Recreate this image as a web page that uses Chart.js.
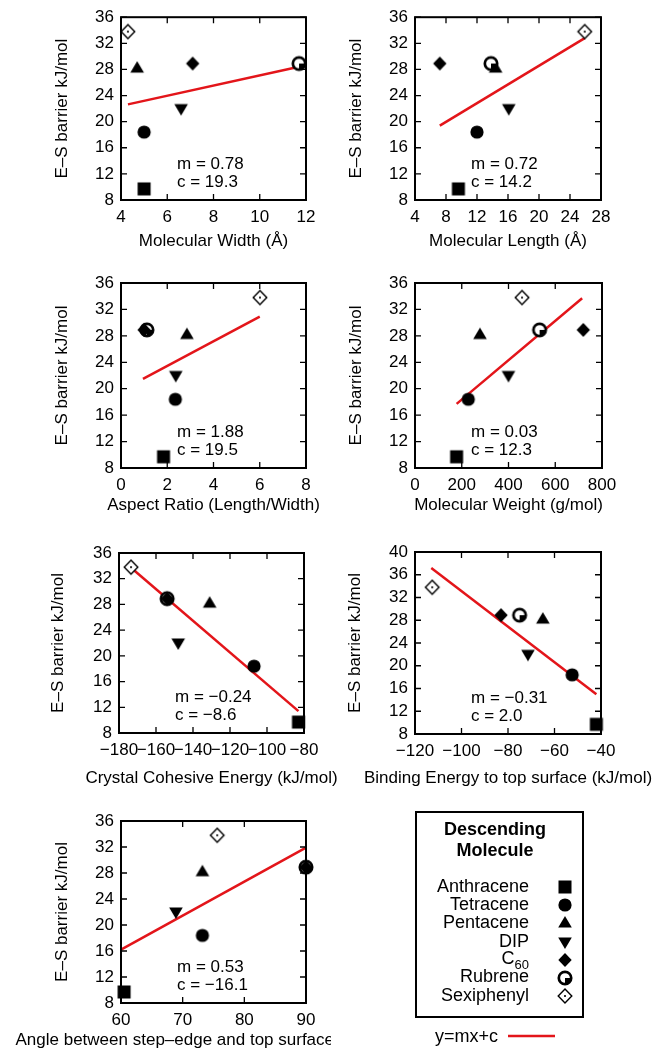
<!DOCTYPE html>
<html lang="en">
<head>
<meta charset="UTF-8" />
<title>E-S barrier vs molecular descriptors</title>
<script src="https://cdn.jsdelivr.net/npm/chart.js"></script>
<style>
  body { margin: 0; background: #fff; }
  .sheet { position: relative; width: 667px; height: 1055px; background: #fff; overflow: hidden; }
  .sheet canvas { position: absolute; }
</style>
</head>
<body>
<div class="sheet" id="sheet"></div>

<script>
  // molecules in plotting order
  const molecules = ["Anthracene", "Tetracene", "Pentacene", "DIP", "C60", "Rubrene", "Sexiphenyl"];
  const markerKinds = ["square", "circle", "triUp", "triDown", "diamond", "rubrene", "openDiamond"];
  // E-S barrier (kJ/mol), same for every panel
  const esBarrier = [9.7, 18.4, 28.2, 22.0, 28.9, 28.9, 33.8];

  // x values per panel
  const molWidth = [5.0, 5.0, 4.7, 6.6, 7.1, 11.7, 4.3];
  const molLength = [9.6, 12.0, 14.4, 16.1, 7.2, 13.8, 25.9];
  const aspectRatio = [1.84, 2.35, 2.85, 2.37, 1.0, 1.12, 6.01];
  const molWeight = [178, 228, 278, 400, 720, 533, 458];
  const cohesiveEnergy = [-83, -107, -131, -148, -154, -154, -173.5];
  const bindingEnergy = [-42, -52.4, -65, -71.4, -83, -75, -112.6];
  const stepAngle = [60.5, 73.2, 73.2, 68.9, 90, 90, 75.6];

  // fitted lines y = mx + c (end points)
  const fitWidthX = [4.3, 11.7], fitWidthY = [22.65, 28.4];
  const fitLengthX = [7.2, 25.9], fitLengthY = [19.4, 32.8];
  const fitAspectX = [0.95, 6.0], fitAspectY = [21.5, 30.9];
  const fitWeightX = [178, 715], fitWeightY = [17.7, 33.7];
  const fitCohesiveX = [-173, -83], fitCohesiveY = [33.6, 11.4];
  const fitBindingX = [-113, -42], fitBindingY = [37.2, 15.0];
  const fitAngleX = [60, 90], fitAngleY = [16.2, 31.9];

  const fitNotes = [
    ["m = 0.78", "c = 19.3"],
    ["m = 0.72", "c = 14.2"],
    ["m = 1.88", "c = 19.5"],
    ["m = 0.03", "c = 12.3"],
    ["m = \u22120.24", "c = \u22128.6"],
    ["m = \u22120.31", "c = 2.0"],
    ["m = 0.53", "c = \u221216.1"]
  ];

  const FONT = '"Liberation Sans", Arial, Helvetica, sans-serif';
  const RED = "#e3151a";

  // marker images (also reused by the legend)
  function makeMarker(kind) {
    const S = 20, c = S / 2;
    const cv = document.createElement("canvas");
    cv.width = S; cv.height = S;
    const g = cv.getContext("2d");
    g.fillStyle = "#000"; g.strokeStyle = "#000";
    g.beginPath();
    if (kind === "square") {
      g.fillRect(c - 6.5, c - 6.5, 13, 13);
    } else if (kind === "circle") {
      g.arc(c, c, 6.6, 0, Math.PI * 2); g.fill();
    } else if (kind === "triUp") {
      g.moveTo(c, c - 7.1); g.lineTo(c + 6.8, c + 4.4); g.lineTo(c - 6.8, c + 4.4); g.closePath(); g.fill();
    } else if (kind === "triDown") {
      g.moveTo(c, c + 7.1); g.lineTo(c + 6.8, c - 4.4); g.lineTo(c - 6.8, c - 4.4); g.closePath(); g.fill();
    } else if (kind === "diamond") {
      g.moveTo(c, c - 7.1); g.lineTo(c + 6.7, c); g.lineTo(c, c + 7.1); g.lineTo(c - 6.7, c); g.closePath(); g.fill();
    } else if (kind === "rubrene") {
      g.fillStyle = "#fff"; g.arc(c, c, 6.2, 0, Math.PI * 2); g.fill();
      g.lineWidth = 2.7; g.stroke();
      g.fillStyle = "#000"; g.beginPath(); g.moveTo(c, c); g.arc(c, c, 6.2, 0, Math.PI / 2); g.closePath(); g.fill();
    } else if (kind === "openDiamond") {
      g.fillStyle = "#fff";
      g.moveTo(c, c - 7); g.lineTo(c + 6.8, c); g.lineTo(c, c + 7); g.lineTo(c - 6.8, c); g.closePath(); g.fill();
      g.lineWidth = 1.4; g.stroke();
      g.fillStyle = "#000"; g.fillRect(c - 0.9, c - 0.9, 1.8, 1.8);
    }
    return cv;
  }
  const markerImgs = markerKinds.map(makeMarker);
  // draw order: lower value ends on top
  const drawOrder = [7, 6, 5, 4, 2, 3, 1];

  // page layout: canvas box [left, top, width, height], plot area [left, top, right, bottom]
  const panels = [
    { xs: molWidth, fx: fitWidthX, fy: fitWidthY, xMin: 4, xMax: 12, xStep: 2, yMax: 36, xTitle: "Molecular Width (\u00c5)", box: [0, 0, 333, 260], area: [121, 15, 306, 200], yTitleX: 62, xTitleY: 241 },
    { xs: molLength, fx: fitLengthX, fy: fitLengthY, xMin: 4, xMax: 28, xStep: 4, yMax: 36, xTitle: "Molecular Length (\u00c5)", box: [333, 0, 334, 260], area: [415, 15, 601, 200], yTitleX: 356, xTitleY: 241 },
    { xs: aspectRatio, fx: fitAspectX, fy: fitAspectY, xMin: 0, xMax: 8, xStep: 2, yMax: 36, xTitle: "Aspect Ratio (Length/Width)", box: [0, 260, 333, 270], area: [121, 283, 306, 468], yTitleX: 62, xTitleY: 505 },
    { xs: molWeight, fx: fitWeightX, fy: fitWeightY, xMin: 0, xMax: 800, xStep: 200, yMax: 36, xTitle: "Molecular Weight (g/mol)", box: [333, 260, 334, 270], area: [415, 283, 602, 468], yTitleX: 356, xTitleY: 505 },
    { xs: cohesiveEnergy, fx: fitCohesiveX, fy: fitCohesiveY, xMin: -180, xMax: -80, xStep: 20, yMax: 36, xTitle: "Crystal Cohesive Energy (kJ/mol)", box: [0, 530, 360, 270], area: [119, 553, 304, 733], yTitleX: 58, xTitleY: 778 },
    { xs: bindingEnergy, fx: fitBindingX, fy: fitBindingY, xMin: -120, xMax: -40, xStep: 20, yMax: 40, xTitle: "Binding Energy to top surface (kJ/mol)", box: [333, 530, 334, 270], area: [415, 552, 601, 734], yTitleX: 355, xTitleY: 778 },
    { xs: stepAngle, fx: fitAngleX, fy: fitAngleY, xMin: 60, xMax: 90, xStep: 10, yMax: 36, xTitle: "Angle between step\u2013edge and top surface (degrees)", box: [0, 800, 331, 255], area: [121, 821, 306, 1003], yTitleX: 62, xTitleY: 1040 }
  ];

  const fmt = v => (v < 0 ? "\u2212" + Math.abs(v) : String(v));

  // gnuplot-like frame: inward ticks on all four sides, x title, fit note
  const framePlugin = {
    id: "frame",
    afterDraw(chart, args, opts) {
      const { ctx, chartArea: a, scales: { x, y } } = chart;
      ctx.save();
      ctx.strokeStyle = "#000";
      ctx.lineWidth = 1.3;
      ctx.beginPath();
      x.ticks.forEach(t => {
        const px = x.getPixelForValue(t.value);
        ctx.moveTo(px, a.bottom); ctx.lineTo(px, a.bottom - 6);
        ctx.moveTo(px, a.top); ctx.lineTo(px, a.top + 6);
      });
      y.ticks.forEach(t => {
        const py = y.getPixelForValue(t.value);
        ctx.moveTo(a.left, py); ctx.lineTo(a.left + 6, py);
        ctx.moveTo(a.right, py); ctx.lineTo(a.right - 6, py);
      });
      ctx.stroke();
      ctx.lineWidth = 2;
      ctx.strokeRect(a.left, a.top, a.right - a.left, a.bottom - a.top);
      ctx.fillStyle = "#000";
      ctx.font = "17px " + FONT;
      ctx.textBaseline = "middle";
      ctx.textAlign = "center";
      ctx.fillText(opts.xTitle, (a.left + a.right) / 2, opts.xTitleY);
      ctx.textAlign = "left";
      (opts.lines || []).forEach((s, i) => ctx.fillText(s, a.left + 56, a.bottom - 36 + i * 18));
      ctx.restore();
    }
  };

  const sheet = document.getElementById("sheet");

  panels.forEach((p, k) => {
    const [bx, by, bw, bh] = p.box;
    const [al, at, ar, ab] = p.area;
    const cv = document.createElement("canvas");
    cv.width = bw; cv.height = bh;
    cv.style.left = bx + "px"; cv.style.top = by + "px";
    cv.style.width = bw + "px"; cv.style.height = bh + "px";
    sheet.appendChild(cv);

    const datasets = [{
      data: p.fx.map((v, i) => ({ x: v, y: p.fy[i] })),
      showLine: true, borderColor: RED, borderWidth: 2.5,
      pointRadius: 0, fill: false, clip: false, order: 9
    }];
    molecules.forEach((m, i) => {
      datasets.push({
        label: m,
        data: [{ x: p.xs[i], y: esBarrier[i] }],
        pointStyle: markerImgs[i], pointRadius: 7, pointBorderWidth: 0,
        clip: false, order: drawOrder[i]
      });
    });

    new Chart(cv, {
      type: "scatter",
      data: { datasets },
      options: {
        responsive: false,
        animation: false,
        devicePixelRatio: 1,
        events: [],
        layout: { padding: { left: 0, top: at - by, right: bx + bw - ar, bottom: 0 } },
        plugins: {
          legend: { display: false },
          tooltip: { enabled: false },
          frame: { lines: fitNotes[k], xTitle: p.xTitle, xTitleY: p.xTitleY - by }
        },
        scales: {
          x: {
            type: "linear", min: p.xMin, max: p.xMax,
            grid: { display: false, drawTicks: false },
            border: { display: false },
            ticks: { stepSize: p.xStep, autoSkip: false, maxRotation: 0, minRotation: 0, padding: 7, color: "#000", font: { family: FONT, size: 17 }, callback: fmt },
            afterFit: s => { s.height = (by + bh) - ab; }
          },
          y: {
            type: "linear", min: 8, max: p.yMax,
            grid: { display: false, drawTicks: false },
            border: { display: false },
            ticks: { stepSize: 4, autoSkip: false, padding: 7, color: "#000", font: { family: FONT, size: 17 }, callback: fmt },
            title: { display: true, text: "E\u2013S barrier kJ/mol", color: "#000", font: { family: FONT, size: 17 }, padding: { top: p.yTitleX - bx - 10.2, bottom: 0 } },
            afterFit: s => { s.width = al - bx; }
          }
        }
      },
      plugins: [framePlugin]
    });
  });

  // legend box
  (function drawLegend() {
    const bx = 333, by = 800, bw = 334, bh = 255;
    const cv = document.createElement("canvas");
    cv.width = bw; cv.height = bh;
    cv.style.left = bx + "px"; cv.style.top = by + "px";
    sheet.appendChild(cv);
    const g = cv.getContext("2d");
    g.strokeStyle = "#000"; g.lineWidth = 2;
    g.strokeRect(83, 12, 167, 205);
    g.fillStyle = "#000";
    g.textBaseline = "middle";
    g.textAlign = "center";
    g.font = "bold 18px " + FONT;
    g.fillText("Descending", 162, 30);
    g.fillText("Molecule", 162, 51);
    g.font = "18px " + FONT;
    g.textAlign = "right";
    const rowY = [87, 105, 123.3, 141.7, 160, 177.5, 196];
    molecules.forEach((m, i) => {
      const yy = rowY[i];
      if (m === "C60") {
        g.font = "13px " + FONT;
        g.fillText("60", 196, yy + 5);
        const w = g.measureText("60").width;
        g.font = "18px " + FONT;
        g.fillText("C", 196 - w, yy - 1);
      } else {
        g.fillText(m, 196, yy);
      }
      const img = markerImgs[i];
      g.drawImage(img, Math.round(232 - img.width / 2), Math.round(yy - img.height / 2));
    });
    g.fillText("y=mx+c", 165, 237);
    g.strokeStyle = RED; g.lineWidth = 2.5;
    g.beginPath(); g.moveTo(175, 236); g.lineTo(222, 236); g.stroke();
  })();
</script>
</body>
</html>
